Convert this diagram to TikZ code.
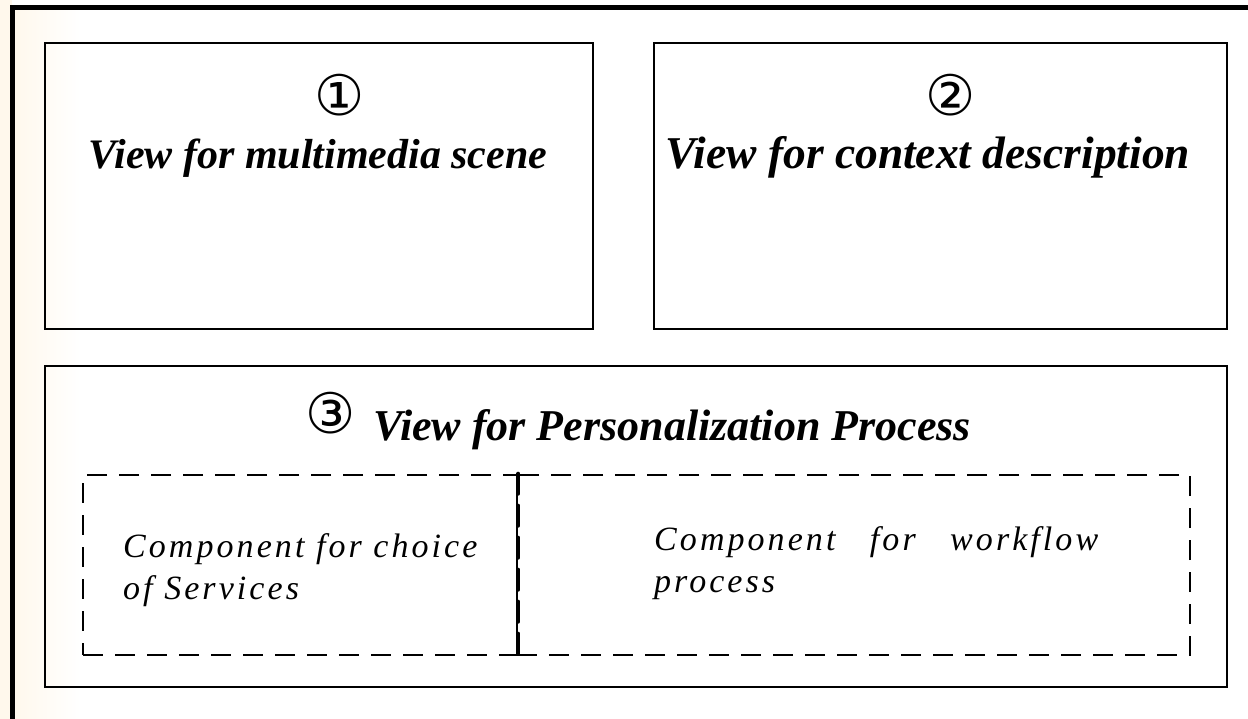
\documentclass[tikz,border=0pt]{standalone}
\usepackage{fontspec}
\setmainfont{Liberation Serif}
\newfontfamily\symfont{DejaVu Sans}
\newfontfamily\compfont[LetterSpace=9]{Liberation Serif}
\usetikzlibrary{positioning}
\definecolor{cream}{HTML}{FFF8EC}
\tikzset{
  view/.style={draw=black, line width=2pt, inner sep=0pt},
  compbox/.style={draw=black, line width=2.6pt, dash pattern=on 20pt off 12pt, inner sep=0pt},
  title/.style={font=\fontsize{44}{50}\selectfont\bfseries\itshape, inner sep=0pt, anchor=base},
  digit/.style={font=\symfont\fontsize{56}{60}\selectfont, inner sep=0pt},
  comptext/.style={font=\compfont\itshape\fontsize{34}{42}\selectfont, inner sep=0pt, align=left, anchor=north west},
}
\begin{document}
\begin{tikzpicture}[x=1pt,y=-1pt]
  % page and the faint cream edge on the left
  \useasboundingbox (0,0) rectangle (1248,719);
  \fill[white] (0,0) rectangle (1248,719);
  \fill[cream] (0,0) rectangle (12,719);
  \shade[left color=cream, right color=white] (12,9) rectangle (80,719);
  % outer frame: top and left edges
  \draw[line width=4.5pt] (12.5,719) -- (12.5,7.5) -- (1248,7.5);

  % view boxes
  \node[view, minimum width=548pt, minimum height=286pt] (v1) at (319,186) {};
  \node[view, minimum width=573pt, minimum height=286pt] (v2) at (940.5,186) {};
  \node[view, minimum width=1182pt, minimum height=321pt] (v3) at (636,526.5) {};

  \node[digit] (d1) at (340,95) {①};
  \node[title, font=\fontsize{42}{48}\selectfont\bfseries\itshape] (t1) at (318,169) {View for multimedia scene};
  \node[digit] (d2) at (951,95) {②};
  \node[title, font=\fontsize{45.5}{50}\selectfont\bfseries\itshape] (t2) at (928,169) {View for context description};
  \node[digit] (d3) at (331,413) {③};
  \node[title, anchor=base west] (t3) at (373,440) {View for Personalization Process};

  % component boxes
  \node[compbox, minimum width=434pt, minimum height=180pt] (c1) at (300,565) {};
  \node[compbox, minimum width=673pt, minimum height=180pt] (c2) at (853.5,565) {};
  \draw[line width=4pt, line cap=round, dash pattern=on 20pt off 12pt]
    (c1.north east) -- (c1.south east);

  \node[comptext] (ct1) at (123,533) {Component for choice\\of Services};
  \node[comptext, text width=444pt, align=justify] (ct2) at (654,526)
    {Component\hfill for\hfill workflow\\process};
\end{tikzpicture}
\end{document}
